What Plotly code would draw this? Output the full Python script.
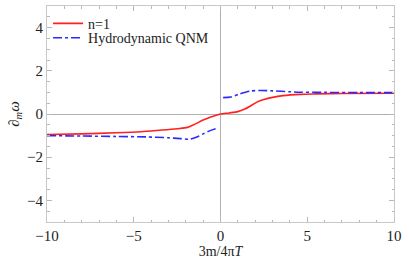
import plotly.graph_objects as go

# n=1 curve
n1_x = [-10, -8, -6, -4.6, -3.5, -2.5, -1.9, -1.5, -1.0, -0.6, -0.3, 0, 0.5, 1.0, 1.4, 1.7, 2.1, 2.5, 3.0, 3.6, 4.6, 5.5, 7, 10]
n1_y = [-0.95, -0.92, -0.87, -0.82, -0.75, -0.68, -0.62, -0.48, -0.28, -0.15, -0.07, 0.0, 0.05, 0.11, 0.23, 0.36, 0.55, 0.67, 0.77, 0.85, 0.91, 0.93, 0.95, 0.96]

# Hydrodynamic QNM (two branches)
qnm_left_x = [-10, -8, -6, -4.3, -3.0, -2.3, -1.8, -1.4, -1.0, -0.6, -0.2]
qnm_left_y = [-1.0, -1.02, -1.04, -1.06, -1.1, -1.14, -1.17, -1.08, -0.92, -0.77, -0.66]
qnm_right_x = [0.15, 0.6, 1.1, 1.7, 2.3, 3.0, 4.0, 4.6, 6, 8, 10]
qnm_right_y = [0.76, 0.79, 0.93, 1.06, 1.09, 1.07, 1.03, 1.01, 1.0, 0.99, 0.99]

xticks = [-10, -5, 0, 5, 10]
yticks = [-4, -2, 0, 2, 4]

font = "Liberation Serif, Times New Roman, serif"

fig = go.Figure()
fig.add_trace(go.Scatter(x=n1_x, y=n1_y, mode="lines", name="n=1", legend="legend",
                         line=dict(color="#ff2020", width=1.6, shape="spline", smoothing=0.8)))
fig.add_trace(go.Scatter(x=qnm_left_x, y=qnm_left_y, mode="lines", name="Hydrodynamic QNM",
                         legendgroup="q", legend="legend2",
                         line=dict(color="#2a2aff", width=1.6, dash="dashdot", shape="spline", smoothing=0.8)))
fig.add_trace(go.Scatter(x=qnm_right_x, y=qnm_right_y, mode="lines", name="Hydrodynamic QNM",
                         legendgroup="q", showlegend=False, legend="legend2",
                         line=dict(color="#2a2aff", width=1.6, dash="dashdot", shape="spline", smoothing=0.8)))

axcommon = dict(showgrid=False, zeroline=True, zerolinecolor="#b0b0b0", zerolinewidth=1,
                showline=True, linecolor="#c8c8c8", linewidth=1, mirror="ticks",
                ticks="inside", ticklen=5, tickcolor="#b8b8b8", automargin=False,
                tickfont=dict(family=font, size=15, color="#222"))

legcommon = dict(xanchor="left", yanchor="top", bgcolor="rgba(0,0,0,0)",
                 font=dict(family=font, size=14, color="#222"), itemwidth=30)

fig.update_layout(
    width=409, height=266,
    margin=dict(l=47, r=15, t=6, b=44),
    paper_bgcolor="white", plot_bgcolor="white",
    font=dict(family=font, size=13, color="#222"),
    showlegend=True,
    legend=dict(x=0.003, y=0.992, **legcommon),
    legend2=dict(x=0.003, y=0.925, **legcommon),
    xaxis=dict(range=[-10, 10], tickvals=xticks, **axcommon,
               minor=dict(dtick=1, ticklen=2.5, tickcolor="#b8b8b8", ticks="inside"),
               title=dict(text="3m/4π<i>T</i>", font=dict(family=font, size=14), standoff=2)),
    yaxis=dict(range=[-5, 5], tickvals=yticks, **axcommon,
               minor=dict(dtick=0.5, ticklen=2.5, tickcolor="#b8b8b8", ticks="inside"),
               title=dict(text="∂<sub><i>m</i></sub><i>ω</i>", font=dict(family=font, size=15), standoff=3)),
)

fig.write_html("out.html", config={"displayModeBar": False},
               post_script="document.body.style.margin='0';document.body.style.padding='0';")
